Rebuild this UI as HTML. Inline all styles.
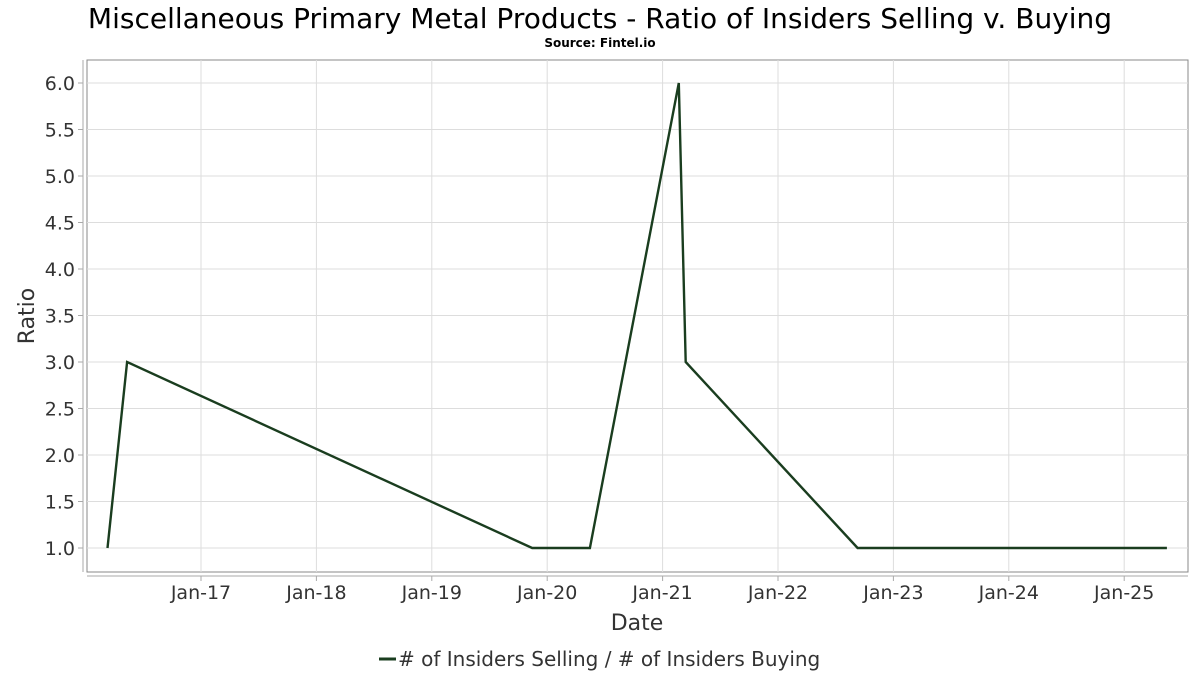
<!DOCTYPE html>
<html><head><meta charset="utf-8">
<style>
html,body{margin:0;padding:0;background:#fff;width:1200px;height:675px;overflow:hidden}
svg text{font-family:"DejaVu Sans","Liberation Sans",sans-serif}
</style></head>
<body>
<svg id="chart" width="1200" height="675" xmlns="http://www.w3.org/2000/svg">
<text x="600" y="28" text-anchor="middle" font-size="28" fill="#000">Miscellaneous Primary Metal Products - Ratio of Insiders Selling v. Buying</text>
<text x="600" y="47" text-anchor="middle" font-size="12" font-weight="bold" fill="#000">Source: Fintel.io</text>
<rect x="87" y="60" width="1101" height="512" fill="#fff" stroke="#888" stroke-width="1"/>
<g id="grid"></g>
<line x1="83" y1="60" x2="83" y2="572" stroke="#aaa"/>
<line x1="87" y1="576" x2="1188" y2="576" stroke="#aaa"/>
<g id="yticks"></g>
<g id="xticks"></g>
<path id="series" fill="none" stroke="#1a3d1f" stroke-width="2.4" stroke-linejoin="miter"/>
<text transform="translate(34,316) rotate(-90)" text-anchor="middle" font-size="22" fill="#333">Ratio</text>
<text x="637" y="630" text-anchor="middle" font-size="22" fill="#333">Date</text>
<g>
<line x1="379" y1="659" x2="396" y2="659" stroke="#1a3d1f" stroke-width="3"/>
<text x="398" y="666" font-size="20" fill="#333">#&#160;of Insiders Selling / # of Insiders Buying</text>
</g>
</svg>
<script>
const dates = [2016.19, 2016.36, 2019.87, 2020.37, 2021.14, 2021.2, 2022.69, 2025.37];
const ratios = [1.0, 3.0, 1.0, 1.0, 6.0, 3.0, 1.0, 1.0];
const yTicks = [1.0, 1.5, 2.0, 2.5, 3.0, 3.5, 4.0, 4.5, 5.0, 5.5, 6.0];
const xTickYears = [2017, 2018, 2019, 2020, 2021, 2022, 2023, 2024, 2025];
const xTickLabels = ["Jan-17","Jan-18","Jan-19","Jan-20","Jan-21","Jan-22","Jan-23","Jan-24","Jan-25"];

const NS = "http://www.w3.org/2000/svg";
const xs = v => 201 + (v - 2017) * 115.4;
const ys = v => 548 - (v - 1) * 93;

const grid = document.getElementById('grid');
const yt = document.getElementById('yticks');
const xt = document.getElementById('xticks');
function mk(tag, attrs, parent){const e=document.createElementNS(NS,tag);for(const k in attrs)e.setAttribute(k,attrs[k]);parent.appendChild(e);return e;}

yTicks.forEach(v=>{
  const y = ys(v);
  const g = mk('line',{x1:87,x2:1188,y1:y,y2:y,stroke:'#ddd','stroke-width':1},grid);
  
  
  mk('line',{x1:78,x2:83,y1:y,y2:y,stroke:'#aaa'},yt);
  const t = mk('text',{x:75,y:y+7,'text-anchor':'end','font-size':19,fill:'#333'},yt);
  t.textContent = v.toFixed(1);
  
  
});
xTickYears.forEach((v,i)=>{
  const x = xs(v);
  const g = mk('line',{x1:x,x2:x,y1:60,y2:572,stroke:'#ddd','stroke-width':1},grid);
  
  
  mk('line',{x1:x,x2:x,y1:576,y2:581,stroke:'#aaa'},xt);
  const t = mk('text',{x:x,y:599,'text-anchor':'middle','font-size':19,fill:'#333'},xt);
  t.textContent = xTickLabels[i];
  
  
});
document.getElementById('series').setAttribute('d',
  dates.map((d,i)=>(i?'L':'M')+xs(d).toFixed(1)+' '+ys(ratios[i]).toFixed(1)).join(' '));
</script>
</body></html>
